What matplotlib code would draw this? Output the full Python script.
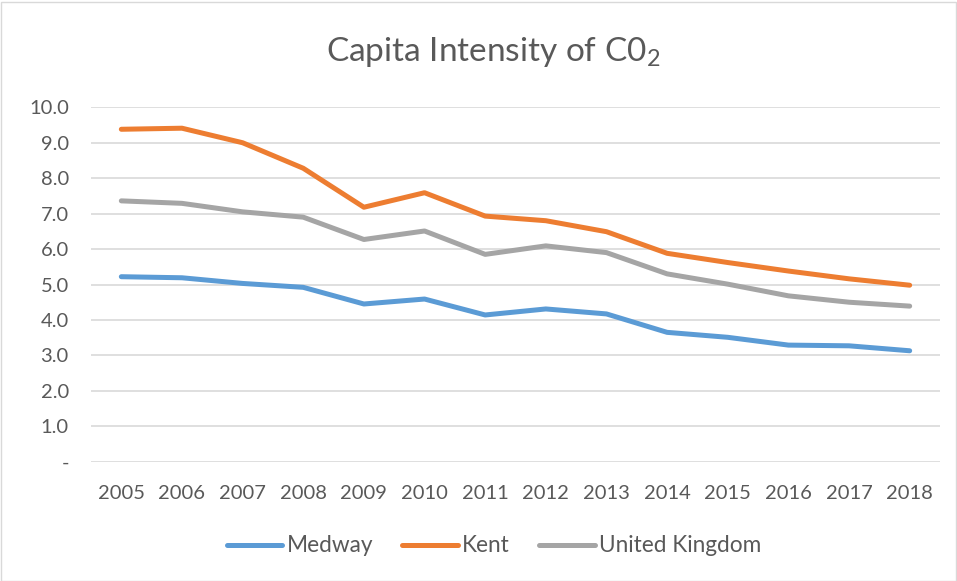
import matplotlib
matplotlib.use("Agg")
import matplotlib.pyplot as plt
from matplotlib.patches import Rectangle

# values
years = ["2005", "2006", "2007", "2008", "2009", "2010", "2011",
         "2012", "2013", "2014", "2015", "2016", "2017", "2018"]
medway = [5.22, 5.19, 5.03, 4.92, 4.45, 4.59, 4.14,
          4.31, 4.17, 3.65, 3.51, 3.29, 3.27, 3.13]
kent = [9.38, 9.41, 9.00, 8.28, 7.18, 7.59, 6.93,
        6.80, 6.49, 5.88, 5.62, 5.38, 5.16, 4.98]
uk = [7.36, 7.29, 7.05, 6.90, 6.27, 6.51, 5.85,
      6.09, 5.90, 5.30, 5.01, 4.68, 4.50, 4.39]
y_ticks = [0, 1, 2, 3, 4, 5, 6, 7, 8, 9, 10]
y_labels = ["-"] + [f"{v:.1f}" for v in y_ticks[1:]]

plt.rcParams['font.family'] = ['Lato', 'DejaVu Sans']
plt.rcParams['mathtext.fontset'] = 'custom'
plt.rcParams['mathtext.rm'] = 'Lato'
text_col = '#595959'

W, H = 957, 581
fig = plt.figure(figsize=(W / 100, H / 100), dpi=100)
fig.patches.append(Rectangle((0.5 / W, 0.5 / H), 1 - 2 / W, 1 - 2 / H,
                             transform=fig.transFigure, fill=False,
                             edgecolor='#d9d9d9', linewidth=1))

left, right = 91 / W, 940 / W
bottom, top = 1 - 461.7 / H, 1 - 107.3 / H
ax = fig.add_axes([left, bottom, right - left, top - bottom])

x = list(range(len(years)))
ax.plot(x, medway, color='#5b9bd5', lw=3.6, solid_capstyle='round',
        solid_joinstyle='round', label='Medway')
ax.plot(x, kent, color='#ed7d31', lw=3.6, solid_capstyle='round',
        solid_joinstyle='round', label='Kent')
ax.plot(x, uk, color='#a5a5a5', lw=3.6, solid_capstyle='round',
        solid_joinstyle='round', label='United Kingdom')

ax.set_xlim(-0.5, len(years) - 0.5)
ax.set_ylim(0, 10)
ax.set_xticks(x)
ax.set_xticklabels(years)
ax.set_yticks(y_ticks)
ax.set_yticklabels(y_labels)
ax.tick_params(length=0, labelsize=14.5, colors=text_col)
ax.tick_params(axis='x', pad=17)
ax.tick_params(axis='y', pad=16)
ax.grid(axis='y', color='#d9d9d9', lw=1.2)
ax.set_axisbelow(True)
for s in ax.spines.values():
    s.set_visible(False)

fig.text(493 / W, 1 - 52 / H, r'Capita Intensity of C0$_2$', ha='center',
         va='center', fontsize=24, color=text_col)

fig.legend(loc='center', bbox_to_anchor=(494 / W, 1 - 546 / H), ncol=3,
           frameon=False, fontsize=16.3, labelcolor=text_col,
           handlelength=2.45, handletextpad=0.18, columnspacing=1.3)

fig.savefig('out.png', dpi=100)
